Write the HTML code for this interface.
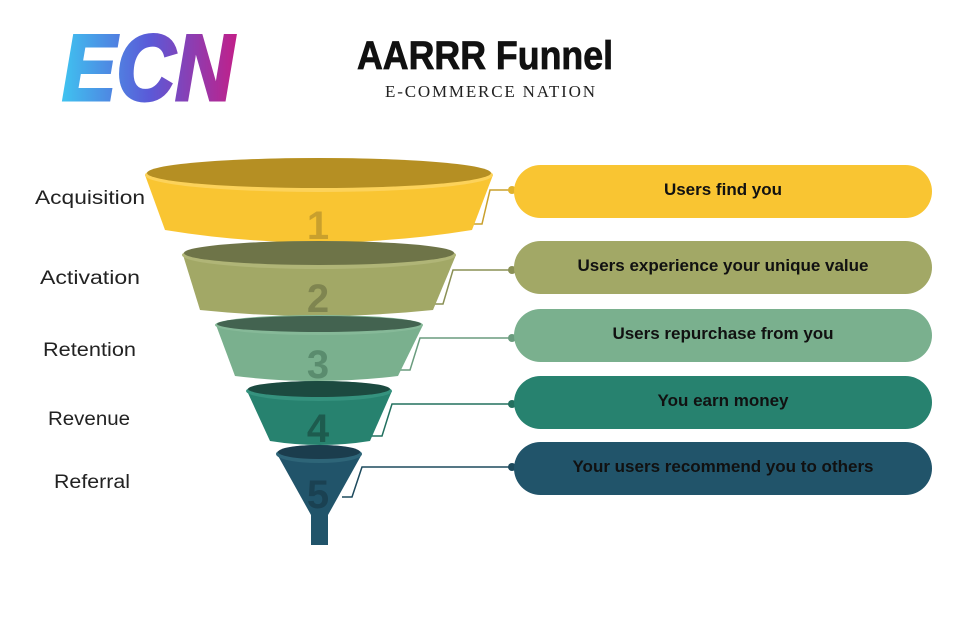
<!DOCTYPE html>
<html><head><meta charset="utf-8"><style>html,body{margin:0;padding:0;background:#fff}svg{display:block}</style></head>
<body>
<svg width="980" height="644" viewBox="0 0 980 644" xmlns="http://www.w3.org/2000/svg">
<defs>
<linearGradient id="lg" x1="0" x2="1" y1="0" y2="0">
<stop offset="0" stop-color="#3fc3f0"/><stop offset="0.5" stop-color="#5a5ad8"/><stop offset="1" stop-color="#c0208a"/>
</linearGradient>
</defs>
<text x="62" y="100" font-family="Liberation Sans, sans-serif" font-weight="bold" font-style="italic" font-size="94" fill="url(#lg)" stroke="url(#lg)" stroke-width="3" textLength="172" lengthAdjust="spacingAndGlyphs">ECN</text>
<text x="357" y="69" font-family="Liberation Sans, sans-serif" font-weight="bold" font-size="40" fill="#111" stroke="#111" stroke-width="0.8" textLength="256" lengthAdjust="spacingAndGlyphs">AARRR Funnel</text>
<text x="385" y="97" font-family="Liberation Serif, serif" font-size="17" fill="#222" textLength="210" lengthAdjust="spacing">E-COMMERCE NATION</text>

<g font-family="Liberation Sans, sans-serif" font-size="19" fill="#222" lengthAdjust="spacingAndGlyphs">
<text x="35" y="204" textLength="110" lengthAdjust="spacingAndGlyphs">Acquisition</text>
<text x="40" y="284" textLength="100" lengthAdjust="spacingAndGlyphs">Activation</text>
<text x="43" y="356" textLength="93" lengthAdjust="spacingAndGlyphs">Retention</text>
<text x="48" y="425" textLength="82" lengthAdjust="spacingAndGlyphs">Revenue</text>
<text x="54" y="488" textLength="76" lengthAdjust="spacingAndGlyphs">Referral</text>
</g>

<g fill="none" stroke-width="1.5">
<path d="M472 224 L482 224 L490 190 L513 190" stroke="#c9a02d"/>
<path d="M433 304 L443 304 L453 270 L513 270" stroke="#8a9055"/>
<path d="M398 370 L410 370 L420 338 L513 338" stroke="#6a9c7e"/>
<path d="M370 436 L382 436 L392 404 L513 404" stroke="#22705f"/>
<path d="M342 497 L352 497 L362 467 L513 467" stroke="#1d4a5d"/>
</g>
<g>
<circle cx="512" cy="190" r="4" fill="#e0b22c"/>
<circle cx="512" cy="270" r="4" fill="#8a9055"/>
<circle cx="512" cy="338" r="4" fill="#6a9c7e"/>
<circle cx="512" cy="404" r="4" fill="#22705f"/>
<circle cx="512" cy="467" r="4" fill="#1d4a5d"/>
</g>

<path d="M145 175 L165 230 Q318 255 472 230 L493 175 Z" fill="#f9c532"/>
<ellipse cx="319" cy="175" rx="174" ry="17" fill="#fcd25a"/>
<ellipse cx="319" cy="173" rx="172" ry="15" fill="#b58f23"/>
<path d="M183 255 L200 310 Q316 322 433 310 L456 255 Z" fill="#a2a866"/>
<ellipse cx="319" cy="255" rx="137" ry="14" fill="#b0b577"/>
<ellipse cx="319" cy="253" rx="135" ry="12" fill="#6e7448"/>
<path d="M216 325 L235 376 Q316 386 398 376 L423 325 Z" fill="#7ab08e"/>
<ellipse cx="319" cy="325" rx="104" ry="10" fill="#86b998"/>
<ellipse cx="319" cy="324" rx="102" ry="8" fill="#436350"/>
<path d="M247 391 L270 441 Q320 449 370 441 L392 391 Z" fill="#27826f"/>
<ellipse cx="319" cy="391" rx="73" ry="10" fill="#35927e"/>
<ellipse cx="319" cy="389" rx="71" ry="8" fill="#1c4a40"/>
<path d="M277 454 L311 515 L311 545 L328 545 L328 515 L362 454 Z" fill="#21546a"/>
<ellipse cx="319" cy="454" rx="43" ry="9" fill="#2e6578"/>
<ellipse cx="319" cy="452" rx="41" ry="7" fill="#1b3d4d"/>

<g font-family="Liberation Sans, sans-serif" font-weight="bold" font-size="40" text-anchor="middle">
<text x="318" y="239" fill="#c9a02d">1</text>
<text x="318" y="312" fill="#7f8550">2</text>
<text x="318" y="378" fill="#5a8c6e">3</text>
<text x="318" y="442" fill="#1d5b4e">4</text>
<text x="318" y="508" fill="#1a4152">5</text>
</g>

<rect x="514" y="165" width="418" height="53" rx="26.5" fill="#f9c532"/>
<rect x="514" y="241" width="418" height="53" rx="26.5" fill="#a2a866"/>
<rect x="514" y="309" width="418" height="53" rx="26.5" fill="#7ab08e"/>
<rect x="514" y="376" width="418" height="53" rx="26.5" fill="#27826f"/>
<rect x="514" y="442" width="418" height="53" rx="26.5" fill="#21546a"/>
<g font-family="Liberation Sans, sans-serif" font-weight="bold" font-size="17" fill="#111" text-anchor="middle">
<text x="723" y="195">Users find you</text>
<text x="723" y="271">Users experience your unique value</text>
<text x="723" y="339">Users repurchase from you</text>
<text x="723" y="406">You earn money</text>
<text x="723" y="472">Your users recommend you to others</text>
</g>
</svg>
</body></html>
